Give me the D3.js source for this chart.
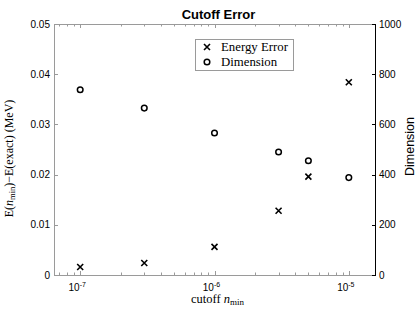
<!DOCTYPE html>
<html lang="en">
<head>
<meta charset="UTF-8">
<title>Cutoff Error</title>
<script src="https://d3js.org/d3.v7.min.js"></script>
<style>
  body { margin: 0; background: #fff; }
  text { font-family: "Liberation Sans", Arial, sans-serif; }
  text.serif { font-family: "Liberation Serif", "DejaVu Serif", serif; }
</style>
</head>
<body>
<svg id="chart"></svg>
<script>
// data
const cutoffs = [1e-7, 3e-7, 1e-6, 3e-6, 5e-6, 1e-5]
const energyError = [0.0016, 0.0024, 0.0056, 0.0128, 0.0196, 0.0384]
const dimension = [738, 665, 566, 490, 455, 388]
const leftTicks = [0, 0.01, 0.02, 0.03, 0.04, 0.05]
const rightTicks = [0, 200, 400, 600, 800, 1000]
const xTicks = [1e-7, 1e-6, 1e-5]
const legendLabels = ["Energy Error", "Dimension"]

const width = 415, height = 309
const m = {left: 54, right: 40, top: 24, bottom: 34}
const svg = d3.select('#chart').attr('width', width).attr('height', height)

const x = d3.scaleLog().domain([Math.pow(10, -7.195), Math.pow(10, -4.805)])
  .range([m.left, width - m.right])
const yL = d3.scaleLinear().domain([0, 0.05]).range([height - m.bottom, m.top])
const yR = d3.scaleLinear().domain([0, 1000]).range([height - m.bottom, m.top])

const gray = '#9a9a9a'
const x0 = m.left, x1 = width - m.right, y0 = height - m.bottom, y1 = m.top

// minor ticks on the log axis (bottom and top, inward)
let minor = []
for (let e = -8; e <= -4; e++) {
  for (let k = 1; k < 10; k++) {
    let v = k * Math.pow(10, e)
    if (v >= x.domain()[0] && v <= x.domain()[1]) minor.push(v)
  }
}
const tickG = svg.append('g').attr('stroke', gray).attr('stroke-width', 1)
minor.forEach(v => {
  let len = xTicks.includes(v) ? 4 : 2.5
  let px = Math.round(x(v)) + 0.5
  tickG.append('line').attr('x1', px).attr('x2', px).attr('y1', y0).attr('y2', y0 - len)
  tickG.append('line').attr('x1', px).attr('x2', px).attr('y1', y1).attr('y2', y1 + len)
})
leftTicks.forEach(v => {
  let py = Math.round(yL(v)) + 0.5
  tickG.append('line').attr('x1', x0).attr('x2', x0 + 4).attr('y1', py).attr('y2', py)
})

// frame: left, top, bottom gray; right axis black
svg.append('path').attr('fill', 'none').attr('stroke', gray)
  .attr('d', `M${x1},${y1 + 0.5}H${x0 + 0.5}V${y0 + 0.5}H${x1}`)
svg.append('line').attr('stroke', '#000')
  .attr('x1', x1 + 0.5).attr('x2', x1 + 0.5).attr('y1', y1).attr('y2', y0 + 1)
rightTicks.forEach(v => {
  let py = Math.round(yR(v)) + 0.5
  svg.append('line').attr('stroke', '#000').attr('x1', x1 + 0.5).attr('x2', x1 - 3).attr('y1', py).attr('y2', py)
})

// tick labels
svg.append('g').selectAll('text').data(leftTicks).join('text')
  .attr('x', x0 - 4).attr('y', d => yL(d) + 3.5).attr('text-anchor', 'end')
  .attr('font-size', 10).text(d => d === 0 ? '0' : d3.format('.2f')(d))
svg.append('g').selectAll('text').data(rightTicks).join('text')
  .attr('x', x1 + 4).attr('y', d => yR(d) + 3.5).attr('text-anchor', 'start')
  .attr('font-size', 10).text(d => d)
const xl = svg.append('g').selectAll('text').data(xTicks).join('text')
  .attr('x', d => x(d) - 3).attr('y', y0 + 16).attr('text-anchor', 'middle').attr('font-size', 10)
xl.append('tspan').text('10')
xl.append('tspan').attr('dy', -4).attr('font-size', 7).text(d => Math.round(Math.log10(d)))

// titles
svg.append('text').attr('x', (x0 + x1) / 2 + 4).attr('y', 18.5).attr('text-anchor', 'middle')
  .attr('font-size', 13).attr('font-weight', 'bold').text('Cutoff Error')
const xt = svg.append('text').attr('class', 'serif').attr('x', (x0 + x1) / 2 + 3).attr('y', 303)
  .attr('text-anchor', 'middle').attr('font-size', 12.5)
xt.append('tspan').text('cutoff ')
xt.append('tspan').attr('font-style', 'italic').text('n')
xt.append('tspan').attr('font-size', 9).attr('dy', 2).text('min')
const yt = svg.append('text').attr('class', 'serif')
  .attr('transform', `translate(13,${(y0 + y1) / 2 + 9}) rotate(-90)`)
  .attr('text-anchor', 'middle').attr('font-size', 12)
yt.append('tspan').text('E(')
yt.append('tspan').attr('font-style', 'italic').text('n')
yt.append('tspan').attr('font-size', 8.5).attr('dy', 2).text('min')
yt.append('tspan').attr('dy', -2).text(')\u2212E(exact) (MeV)')
svg.append('text').attr('transform', `translate(413.5,${(y0 + y1) / 2 - 3}) rotate(-90)`)
  .attr('text-anchor', 'middle').attr('font-size', 12.5).text('Dimension')

// markers
function cross(g, cx, cy) {
  g.append('path').attr('d', `M${cx - 3},${cy - 3}L${cx + 3},${cy + 3}M${cx - 3},${cy + 3}L${cx + 3},${cy - 3}`)
    .attr('stroke', '#000').attr('stroke-width', 1.6).attr('fill', 'none')
}
function ring(g, cx, cy) {
  g.append('circle').attr('cx', cx).attr('cy', cy).attr('r', 2.8)
    .attr('stroke', '#000').attr('stroke-width', 1.5).attr('fill', 'none')
}
const pts = svg.append('g')
cutoffs.forEach((c, i) => {
  cross(pts, x(c), yL(energyError[i]))
  ring(pts, x(c), yR(dimension[i]))
})

// legend
const lg = svg.append('g')
lg.append('rect').attr('x', 195.5).attr('y', 39.5).attr('width', 98).attr('height', 31)
  .attr('fill', '#fff').attr('stroke', gray)
cross(lg, 207, 47)
ring(lg, 207, 62)
legendLabels.forEach((t, i) => {
  lg.append('text').attr('class', 'serif').attr('x', 221).attr('y', 51 + i * 15)
    .attr('font-size', 12.8).text(t)
})
</script>
</body>
</html>
